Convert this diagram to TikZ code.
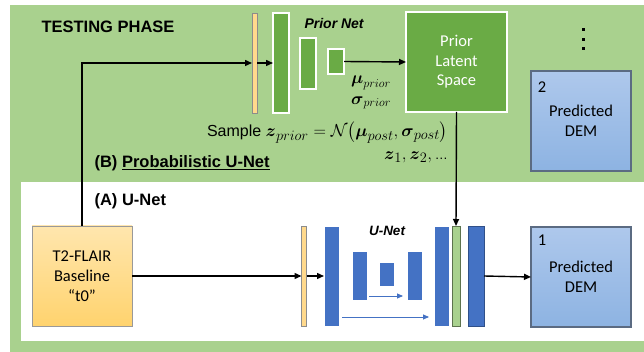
\documentclass[tikz,border=0pt]{standalone}
\usepackage[no-math]{fontspec}
\usepackage{amsmath}
\setmainfont{Liberation Sans}
\newfontfamily\calib{Carlito}
\usetikzlibrary{arrows.meta}
% larger sub/superscripts for the formula labels
\DeclareMathSizes{16}{17.5}{14}{10}
\DeclareMathSizes{15}{16.5}{13}{10}

\definecolor{bggreen}{HTML}{A9D18E}
\definecolor{darkgreen}{HTML}{6AAB45}
\definecolor{barorange}{HTML}{FFD98C}
\definecolor{unetblue}{HTML}{4472C4}
\definecolor{demtop}{HTML}{AEC8EC}
\definecolor{dembot}{HTML}{8DB3E2}
\definecolor{demborder}{HTML}{5B6B82}
\definecolor{flairtop}{HTML}{FFE6AE}
\definecolor{flairbot}{HTML}{FFD36E}

\tikzset{
  px/.style={x=1pt,y=-1pt},
  layer/.style={rectangle, inner sep=0pt, outer sep=0pt},
  inbar/.style={layer, draw=black!45, fill=barorange, line width=0.8pt, minimum width=5pt, minimum height=100pt},
  priorbar/.style={layer, draw=white, fill=darkgreen, line width=1.6pt},
  unetbar/.style={layer, fill=unetblue, draw=white, line width=0.5pt},
  dembox/.style={layer, draw=demborder, line width=1.2pt, top color=demtop, bottom color=dembot,
    minimum width=100pt, minimum height=100pt, align=center, font=\calib\fontsize{16.5}{20}\selectfont},
  demnum/.style={anchor=center, font=\calib\fontsize{16.5}{20}\selectfont},
  conn/.style={line width=1.4pt, -{Triangle[length=7pt,width=6pt]}},
  skip/.style={draw=unetblue, line width=0.8pt, -{Triangle[length=6pt,width=5pt]}},
  heading/.style={anchor=west, font=\bfseries\fontsize{16.5}{19}\selectfont},
  netname/.style={font=\bfseries\itshape\fontsize{14}{17}\selectfont},
  mathlabel/.style={inner sep=0pt, font=\fontsize{15}{18}\selectfont},
  dot/.style={rectangle, fill=black, inner sep=0pt, minimum size=3pt},
}

\begin{document}
\begin{tikzpicture}[px]
  \useasboundingbox (0,0) rectangle (644,352);
  % background panels
  \fill[bggreen] (10,5) rectangle (644,352);
  \fill[white] (21,182) rectangle (644,341);

  % ---------- testing phase (probabilistic U-Net) ----------
  \node[heading] (testing) at (38,27) {TESTING PHASE};

  \node[inbar] (pin) at (254.5,63) {};
  \node[priorbar, minimum width=16pt, minimum height=100pt] (pg1) at (281,63) {};
  \node[priorbar, minimum width=16pt, minimum height=51pt] (pg2) at (308,63.5) {};
  \node[priorbar, minimum width=16pt, minimum height=25pt] (pg3) at (336,61.5) {};
  \node[netname, anchor=west] (priornet) at (301,24) {Prior Net};

  \node[priorbar, minimum width=101pt, minimum height=100pt, align=center,
        text=white, font=\calib\fontsize{16.5}{19.5}\selectfont] (latent) at (456.5,62)
        {Prior\\Latent\\Space};

  \node[mathlabel] (mu) at (371,83) {$\boldsymbol{\mu}_{prior}$};
  \node[mathlabel] (sigma) at (371,103) {$\boldsymbol{\sigma}_{prior}$};

  \node[anchor=east, inner sep=0pt, font=\fontsize{16}{19}\selectfont] (sample) at (448,133)
    {Sample $\boldsymbol{z}_{prior}=\mathcal{N}\bigl(\boldsymbol{\mu}_{post},\boldsymbol{\sigma}_{post}\bigr)$};
  \node[anchor=east, inner sep=0pt, font=\fontsize{16}{19}\selectfont] (zs) at (448,157)
    {$\boldsymbol{z}_1,\boldsymbol{z}_2,$\,{\fontsize{13}{15}\selectfont …}};

  \node[heading] (probunet) at (91,163) {(B) \underline{Probabilistic U-Net}};

  \node[dembox] (dem2) at (581,121) {Predicted\\DEM};
  \node[demnum] (n2) at (542,87) {2};

  \node[dot] (d1) at (583,30) {};
  \node[dot] (d2) at (583,39.5) {};
  \node[dot] (d3) at (583,49) {};

  % ---------- U-Net ----------
  \node[heading] (unethead) at (91,201) {(A) U-Net};

  \node[layer, draw=black!40, line width=0.8pt, top color=flairtop, bottom color=flairbot,
        minimum width=100pt, minimum height=100pt, align=center,
        font=\calib\fontsize{16.5}{20}\selectfont] (flair) at (82,276)
        {T2-FLAIR\\Baseline\\“t0”};

  \node[inbar] (uin) at (304,276) {};
  \node[unetbar, minimum width=15pt, minimum height=100pt] (u1) at (331.5,276) {};
  \node[unetbar, minimum width=15pt, minimum height=49pt] (u2) at (359.5,275.5) {};
  \node[unetbar, minimum width=15pt, minimum height=24pt] (u3) at (386.5,274) {};
  \node[unetbar, minimum width=15pt, minimum height=49pt] (u4) at (414.5,275.5) {};
  \node[unetbar, minimum width=15pt, minimum height=100pt] (u5) at (441.5,276) {};
  \node[layer, draw=black!45!bggreen, fill=bggreen, line width=0.8pt,
        minimum width=8pt, minimum height=100pt] (ug) at (456,276) {};
  \node[layer, fill=unetblue, draw=unetblue!70!black, line width=0.8pt,
        minimum width=16pt, minimum height=100pt] (u6) at (476,276) {};
  \node[netname, font=\bfseries\itshape\fontsize{13.5}{16}\selectfont] (unetname) at (387,231) {U-Net};

  \node[dembox] (dem1) at (581,277) {Predicted\\DEM};
  \node[demnum] (n1) at (542,240) {1};

  % ---------- connectors ----------
  \draw[conn] (flair.north) |- (pin.west);
  \draw[conn] (pin.east) -- (pg1.west);
  \draw[conn] (pg3.east) -- (latent.west);
  \draw[conn] (latent.south) -- (ug.north);
  \draw[conn] (flair.east) -- (uin.west);
  \draw[conn] (uin.east) -- (u1.west);
  \draw[conn] (u6.east) -- (dem1.west);
  \draw[skip] ([xshift=2pt,yshift=4pt]u2.south east) -- ([xshift=-4pt,yshift=4pt]u4.south west);
  \draw[skip] ([xshift=3pt,yshift=9pt]u1.south east) -- ([xshift=-5pt,yshift=9pt]u5.south west);
\end{tikzpicture}
\end{document}
